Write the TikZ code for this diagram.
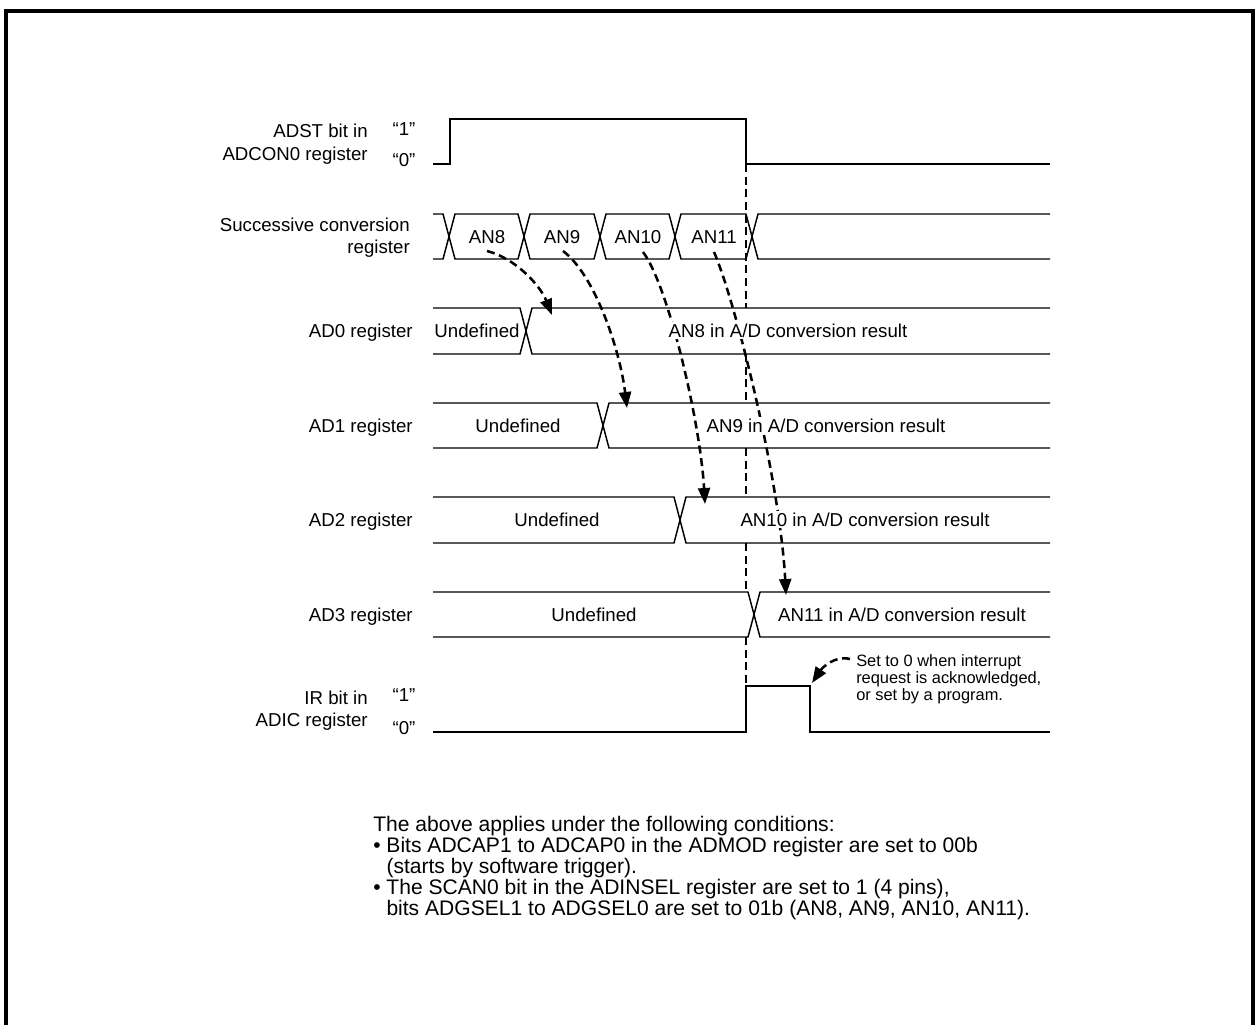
\documentclass[tikz,border=0pt]{standalone}
\usepackage{fontspec}
\setmainfont{Liberation Sans}
\usetikzlibrary{arrows.meta}
\begin{document}
\begin{tikzpicture}[x=0.75pt,y=-0.75pt,
  sig/.style={line width=1.1pt, line join=miter},
  frame/.style={line width=2.6pt},
  vdash/.style={line width=1.9pt, dash pattern=on 6pt off 3.5pt},
  arr/.style={line width=1.9pt, dash pattern=on 6pt off 3.5pt, -{Triangle[length=12pt,width=9pt]}},
  lbl/.style={font=\fontsize{14}{16.5}\selectfont, inner sep=0pt},
  txt/.style={font=\fontsize{14}{16.5}\selectfont, fill=white, inner sep=1pt},
  note/.style={font=\fontsize{12.3}{10.6}\selectfont, inner sep=0pt, align=left},
  cond/.style={font=\fontsize{15.8}{14.3}\selectfont, inner sep=0pt, align=left},
]
\useasboundingbox (0,0) rectangle (1256,1025);
% frame
\draw[frame] (6,1025) -- (6,11) -- (1253,11) -- (1253,1025);

% ADST bit
\draw[sig] (433,164) -- (450,164) -- (450,119) -- (746,119) -- (746,164) -- (1050,164);
% successive conversion register
\draw[sig] (433,214) -- (443,214) -- (455,259) -- (518,259) -- (530,214) -- (594,214) -- (606,259) -- (669,259) -- (681,214) -- (746,214) -- (758,259) -- (1050,259);
\draw[sig] (433,259) -- (443,259) -- (455,214) -- (518,214) -- (530,259) -- (594,259) -- (606,214) -- (669,214) -- (681,259) -- (746,259) -- (758,214) -- (1050,214);
% AD registers
\foreach \t/\b/\c in {308/354/526, 403/448/603, 497/543/680, 592/637/754} {
  \draw[sig] (433,\t) -- (\c-6,\t) -- (\c+6,\b) -- (1050,\b);
  \draw[sig] (433,\b) -- (\c-6,\b) -- (\c+6,\t) -- (1050,\t);
}
% IR bit
\draw[sig] (433,732) -- (746,732) -- (746,686) -- (810,686) -- (810,732) -- (1050,732);

% vertical dashed timing line
\draw[vdash] (746,164) -- (746,308);
\draw[vdash] (746,354) -- (746,403);
\draw[vdash] (746,448) -- (746,497);
\draw[vdash] (746,543) -- (746,592);
\draw[vdash] (746,637) -- (746,686);

% arrow end points
\coordinate (s8) at (487,251);  \coordinate (e8) at (552,315);
\coordinate (s9) at (563,251);  \coordinate (e9) at (627,408);
\coordinate (s10) at (643,252); \coordinate (e10) at (705,504);
\coordinate (s11) at (714,252); \coordinate (e11) at (786,595);
\coordinate (sn) at (850,659);  \coordinate (en) at (812,683);

\draw[arr] (s8) .. controls (515,258) and (540,285) .. (e8);
\draw[arr] (s9) .. controls (595,275) and (620,350) .. (e9);
\draw[arr] (s10) .. controls (668,285) and (700,420) .. (e10);
\draw[arr] (s11) .. controls (735,300) and (780,480) .. (e11);
\draw[arr] (sn) .. controls (835,655) and (822,668) .. (en);

% left labels
\node[lbl, anchor=base east] (l1a) at (368,137) {ADST bit in};
\node[lbl, anchor=base east] (l1b) at (368,160) {ADCON0 register};
\node[lbl, anchor=base] (h1) at (404,135) {“1”};
\node[lbl, anchor=base] (h0) at (404,166) {“0”};
\node[lbl, anchor=base east] (l2a) at (410,231) {Successive conversion};
\node[lbl, anchor=base east] (l2b) at (410,253) {register};
\node[lbl, anchor=base east] (l3) at (413,337) {AD0 register};
\node[lbl, anchor=base east] (l4) at (413,432) {AD1 register};
\node[lbl, anchor=base east] (l5) at (413,526) {AD2 register};
\node[lbl, anchor=base east] (l6) at (413,621) {AD3 register};
\node[lbl, anchor=base east] (l7a) at (368,704) {IR bit in};
\node[lbl, anchor=base east] (l7b) at (368,726) {ADIC register};
\node[lbl, anchor=base] (i1) at (404,701) {“1”};
\node[lbl, anchor=base] (i0) at (404,734) {“0”};

% successive conversion labels
\node[txt, anchor=base] (n8) at (487,243) {AN8};
\node[txt, anchor=base] (n9) at (562,243) {AN9};
\node[txt, anchor=base] (n10) at (638,243) {AN10};
\node[txt, anchor=base] (n11) at (714,243) {AN11};

% register contents
\node[txt, anchor=base] (u0) at (477,337) {Undefined};
\node[txt, anchor=base] (r0) at (788,337) {AN8 in A/D conversion result};
\node[txt, anchor=base] (u1) at (518,432) {Undefined};
\node[txt, anchor=base] (r1) at (826,432) {AN9 in A/D conversion result};
\node[txt, anchor=base] (u2) at (557,526) {Undefined};
\node[txt, anchor=base] (r2) at (865,526) {AN10 in A/D conversion result};
\node[txt, anchor=base] (u3) at (594,621) {Undefined};
\node[txt, anchor=base] (r3) at (902,621) {AN11 in A/D conversion result};

% note (base anchor = last line)
\node[note, anchor=base west] (nt) at (856,700) {Set to 0 when interrupt\\request is acknowledged,\\or set by a program.};

% conditions (base anchor = last line)
\node[cond, anchor=base west] (cd) at (373,915) {The above applies under the following conditions:\\
\textbullet\ Bits ADCAP1 to ADCAP0 in the ADMOD register are set to 00b\\
\phantom{\textbullet\ }(starts by software trigger).\\
\textbullet\ The SCAN0 bit in the ADINSEL register are set to 1 (4 pins),\\
\phantom{\textbullet\ }bits ADGSEL1 to ADGSEL0 are set to 01b (AN8, AN9, AN10, AN11).};
\end{tikzpicture}
\end{document}
